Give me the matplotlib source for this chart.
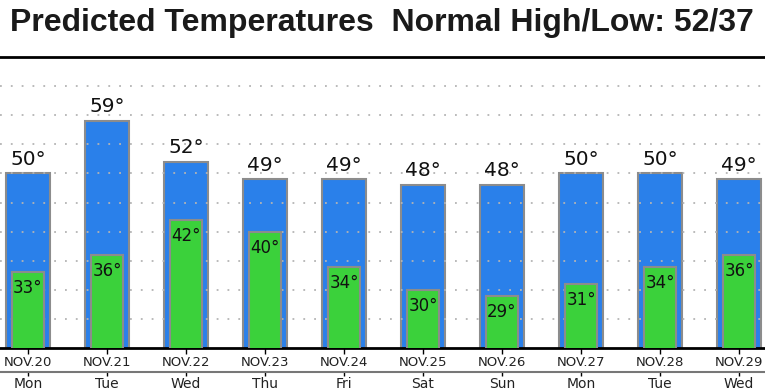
import numpy as np
import matplotlib.pyplot as plt

# Forecast data
dates = ['NOV.20', 'NOV.21', 'NOV.22', 'NOV.23', 'NOV.24',
         'NOV.25', 'NOV.26', 'NOV.27', 'NOV.28', 'NOV.29']
days = ['Mon', 'Tue', 'Wed', 'Thu', 'Fri', 'Sat', 'Sun', 'Mon', 'Tue', 'Wed']
highs = [50, 59, 52, 49, 49, 48, 48, 50, 50, 49]
lows = [33, 36, 42, 40, 34, 30, 29, 31, 34, 36]

blue = '#2a80ea'
green = '#3bd13b'
edge = '#8c8c8c'

x = np.arange(len(dates))

fig = plt.figure(figsize=(7.65, 3.9), dpi=100)
ax = fig.add_axes([0, 1 - 348 / 390, 1, (348 - 57) / 390])

# High / low bars
ax.bar(x, highs, width=0.557, bottom=0, color=blue, edgecolor=edge,
       linewidth=1.5, zorder=1)
ax.bar(x, lows, width=0.405, bottom=0, color=green, edgecolor=edge,
       linewidth=1.5, zorder=3)

# Dotted grid (over the blue, under the green)
for g in range(25, 70, 5):
    ax.axhline(g, color='#b4b4b4', lw=1.3, ls=(0, (1, 5)), zorder=2)

for xi, h in zip(x, highs):
    ax.text(xi, h + 0.8, f'{h}°', ha='center', va='bottom', fontsize=14.5,
            color='#111111', zorder=4)
for xi, lo in zip(x, lows):
    ax.text(xi, lo - 1.2, f'{lo}°', ha='center', va='top', fontsize=12,
            color='#111111', zorder=4)

ax.set_xlim(-28 / 79, (765 - 28) / 79)
ax.set_ylim(20, 70)
ax.set_yticks([])

for s in ['left', 'right']:
    ax.spines[s].set_visible(False)
ax.spines['top'].set_linewidth(2)
ax.spines['bottom'].set_linewidth(2)

ax.set_xticks(x)
ax.set_xticklabels(dates, fontsize=9.5, color='#222222')
ax.tick_params(axis='x', length=4, width=1, pad=1.5)

# Weekday axis below the dates
sec = ax.secondary_xaxis((348 - 372) / 291)
sec.set_xticks(x)
sec.set_xticklabels(days, fontsize=10, color='#222222')
sec.spines['bottom'].set_color('#777777')
sec.spines['bottom'].set_linewidth(1.5)
sec.tick_params(axis='x', length=3, width=1, pad=0.5)

fig.text(0.499, 1 - 23 / 390, 'Predicted Temperatures  Normal High/Low: 52/37',
         ha='center', va='center', fontsize=23, fontweight='bold',
         family=['Liberation Sans', 'DejaVu Sans'], color='#1a1a1a')

fig.savefig('out.png', dpi=100)
